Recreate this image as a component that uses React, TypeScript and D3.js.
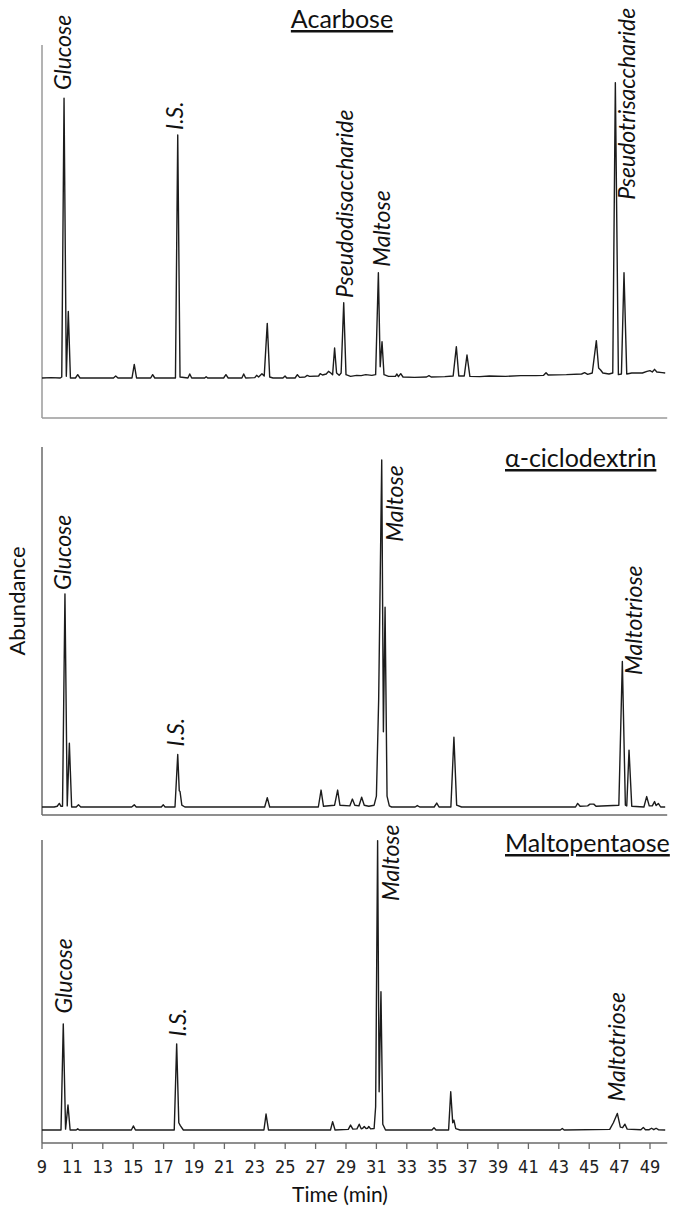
import React from "react";
import * as d3 from "d3";

// ---------- DATA (time in min, abundance in arbitrary units, baseline = 0) ----------
const TIME_TICKS = [9, 11, 13, 15, 17, 19, 21, 23, 25, 27, 29, 31, 33, 35, 37, 39, 41, 43, 45, 47, 49];

const ACARBOSE_TRACE: [number, number][] = [
  [9.0, 0], [9.6, 0.1], [10.2, 0], [10.3, 0.3], [10.45, 84], [10.6, 0.5], [10.73, 20], [10.87, 0],
  [11.2, 0], [11.35, 1], [11.5, 0], [13.7, 0], [13.85, 0.6], [14.0, 0], [14.92, 0], [15.07, 4.1],
  [15.22, 0], [16.15, 0], [16.28, 1], [16.42, 0], [17.78, 0], [17.93, 73], [18.08, 0.3], [18.6, 0],
  [18.72, 1.2], [18.85, 0], [19.7, 0], [19.8, 0.4], [19.9, 0], [20.95, 0], [21.1, 1], [21.25, 0],
  [22.15, 0], [22.27, 1.2], [22.4, 0], [23.0, 0.1], [23.12, 0.8], [23.25, 0.3], [23.47, 1.3],
  [23.62, 0.6], [23.82, 16.4], [23.98, 0.3], [24.2, 0], [24.85, 0], [24.99, 0.6], [25.1, 0],
  [25.65, 0], [25.8, 1], [25.95, 0.2], [26.3, 0.3], [26.45, 0.8], [26.6, 0.5], [27.2, 0.6],
  [27.3, 1.3], [27.45, 0.9], [27.7, 1.2], [27.85, 2.0], [28.0, 1.5], [28.12, 1.0], [28.25, 9],
  [28.38, 1.5], [28.55, 0.8], [28.68, 1.5], [28.85, 22.6], [29.0, 1.0], [29.3, 0.5], [29.7, 0.8],
  [30.0, 0.7], [30.3, 1.0], [30.7, 0.8], [30.95, 1.0], [31.13, 31.6], [31.25, 3.4], [31.37, 10.9],
  [31.5, 1.0], [31.8, 0.5], [32.25, 0.5], [32.35, 1.2], [32.45, 0.4], [32.6, 1.3], [32.75, 0.3],
  [33.5, 0.2], [34.3, 0.3], [34.46, 0.7], [34.6, 0.3], [35.5, 0.4], [36.05, 0.6], [36.26, 9.4],
  [36.42, 0.6], [36.78, 0.6], [36.96, 6.9], [37.15, 0.5], [37.8, 0.4], [38.43, 0.6], [39.5, 0.5],
  [40.5, 0.7], [41.5, 0.7], [42.0, 0.8], [42.16, 1.6], [42.3, 0.9], [43.5, 1.0], [44.5, 1.2],
  [44.7, 1.6], [44.9, 1.1], [45.2, 1.5], [45.47, 11.2], [45.62, 3.0], [45.75, 2.4], [45.9, 1.5],
  [46.3, 1.2], [46.55, 1.5], [46.72, 88.7], [46.92, 1.0], [47.12, 1.2], [47.29, 31.6], [47.47, 1.2],
  [47.8, 1.5], [48.5, 1.5], [48.8, 2.0], [49.0, 2.2], [49.15, 1.8], [49.3, 2.6], [49.45, 1.8],
  [49.8, 1.6], [50.0, 1.5],
];

const CICLODEXTRIN_TRACE: [number, number][] = [
  [9.0, 0], [9.8, 0], [10.0, 0.2], [10.14, 1], [10.25, 0.2], [10.35, 0.2], [10.51, 59.2], [10.66, 0.3],
  [10.8, 17.7], [10.95, 0], [11.25, 0], [11.4, 0.6], [11.55, 0], [14.9, 0], [15.07, 0.6], [15.2, 0],
  [16.85, 0], [16.98, 0.6], [17.1, 0], [17.75, 0], [17.93, 14.6], [18.03, 4.5], [18.08, 4.3],
  [18.2, 0.5], [18.4, 0], [23.65, 0], [23.82, 2.6], [23.98, 0], [27.18, 0], [27.36, 4.7],
  [27.52, 0.2], [28.25, 0.5], [28.45, 4.7], [28.6, 0.5], [29.25, 0.3], [29.42, 2.2], [29.58, 0.5],
  [29.85, 0.3], [30.03, 2.7], [30.2, 0.5], [30.5, 0.2], [30.85, 0.5], [31.0, 3], [31.15, 30],
  [31.35, 96.4], [31.46, 20.9], [31.57, 55.5], [31.7, 3], [31.85, 0.3], [32.0, 0], [33.55, 0],
  [33.69, 0.4], [33.85, 0], [34.8, 0], [34.97, 1.1], [35.12, 0], [35.9, 0], [36.1, 19.4],
  [36.28, 0.5], [36.6, 0], [44.1, 0], [44.24, 1], [44.4, 0.2], [44.9, 0.3], [45.05, 0.8],
  [45.3, 0.8], [45.45, 0.2], [46.95, 0.5], [47.18, 40.4], [47.38, 0.5], [47.47, 0.3], [47.62, 15.8],
  [47.8, 0.2], [48.6, 0], [48.78, 2.9], [48.95, 0.3], [49.15, 0.3], [49.3, 1.5], [49.4, 0.4],
  [49.55, 1.0], [49.7, 0], [50.0, 0],
];

const MALTOPENTAOSE_TRACE: [number, number][] = [
  [9.0, 0], [10.25, 0], [10.4, 36.6], [10.55, 0.3], [10.71, 8.6], [10.85, 0], [11.25, 0],
  [11.35, 0.4], [11.45, 0], [14.88, 0], [15.01, 1.4], [15.15, 0], [17.7, 0], [17.86, 29.7],
  [18.0, 2.5], [18.1, 1.5], [18.3, 0], [23.6, 0], [23.74, 5.5], [23.9, 0], [27.98, 0], [28.12, 2.9],
  [28.28, 0], [29.15, 0.2], [29.3, 1.7], [29.45, 0.3], [29.72, 0.4], [29.87, 2.0], [30.0, 0.4],
  [30.1, 0.6], [30.2, 1.2], [30.32, 0.5], [30.42, 0.6], [30.5, 1.2], [30.62, 0.4], [30.85, 0.5],
  [30.95, 8], [31.08, 99.8], [31.18, 13.2], [31.3, 47.7], [31.42, 2], [31.6, 0], [34.65, 0],
  [34.79, 0.8], [34.92, 0], [35.75, 0], [35.89, 13.2], [36.02, 2.5], [36.1, 3.4], [36.22, 0.5],
  [36.5, 0], [43.1, 0], [43.23, 0.5], [43.35, 0], [46.35, 0.2], [46.59, 2.5], [46.85, 5.7],
  [47.05, 1.0], [47.2, 0.8], [47.35, 2.0], [47.5, 0.3], [48.4, 0.1], [48.56, 0.9], [48.7, 0.1],
  [48.95, 0.1], [49.1, 0.6], [49.25, 0.1], [49.4, 0.6], [49.55, 0.1], [50.0, 0],
];

const ACARBOSE_LABELS = [
  { text: "Glucose", t: 10.91, v: 86.5 },
  { text: "I.S.", t: 18.28, v: 74.5 },
  { text: "Pseudodisaccharide", t: 29.46, v: 24 },
  { text: "Maltose", t: 31.9, v: 33.4 },
  { text: "Pseudotrisaccharide", t: 48.01, v: 53.5 },
];
const CICLODEXTRIN_LABELS = [
  { text: "Glucose", t: 10.94, v: 60.3 },
  { text: "I.S.", t: 18.34, v: 16.8 },
  { text: "Maltose", t: 32.75, v: 73.7 },
  { text: "Maltotriose", t: 48.45, v: 36.7 },
];
const MALTOPENTAOSE_LABELS = [
  { text: "Glucose", t: 10.97, v: 40.2 },
  { text: "I.S.", t: 18.47, v: 32.2 },
  { text: "Maltose", t: 32.49, v: 79 },
  { text: "Maltotriose", t: 47.36, v: 9.8 },
];

const PANEL_TITLES = ["Acarbose", "\u03b1-ciclodextrin", "Maltopentaose"];
const X_TITLE = "Time (min)";
const Y_TITLE = "Abundance";

// ---------- LAYOUT ----------
const W = 685;
const H = 1215;
const LEFT = 42;
const RIGHT = 665.2;
const LABEL_FONT = "Lato, 'Open Sans', sans-serif";
const TICK_FONT = "'Liberation Sans Narrow', 'DejaVu Sans Condensed', 'Roboto Condensed', sans-serif";

const panels = [
  { trace: ACARBOSE_TRACE, labels: ACARBOSE_LABELS, title: PANEL_TITLES[0], top: 45, base: 378, bottom: 418,
    axisColor: "#9a9a9a", titleX: 342, titleY: 28, titleAnchor: "middle" },
  { trace: CICLODEXTRIN_TRACE, labels: CICLODEXTRIN_LABELS, title: PANEL_TITLES[1], top: 447, base: 807, bottom: 815,
    axisColor: "#6a6a6a", titleX: 505, titleY: 467, titleAnchor: "start" },
  { trace: MALTOPENTAOSE_TRACE, labels: MALTOPENTAOSE_LABELS, title: PANEL_TITLES[2], top: 840, base: 1130, bottom: 1143,
    axisColor: "#6a6a6a", titleX: 505, titleY: 852, titleAnchor: "start" },
];

export default function App() {
  const x = d3.scaleLinear().domain([9, 50]).range([LEFT, RIGHT]);

  return (
    <svg width={W} height={H} viewBox={`0 0 ${W} ${H}`}
      style={{ position: "absolute", left: 0, top: 0, display: "block", background: "#fff" }}>
      {panels.map((p, i) => {
        const pxPerUnit = (p.base - p.top) / 100;
        const y = d3.scaleLinear()
          .domain([-(p.bottom - p.base) / pxPerUnit, 100])
          .range([p.bottom, p.top]);
        const line = d3.line<[number, number]>().x((d) => x(d[0])).y((d) => y(d[1]));
        return (
          <g key={i}>
            <line x1={LEFT} x2={LEFT} y1={p.top} y2={p.bottom} stroke={p.axisColor} strokeWidth={1.5} />
            <line x1={LEFT} x2={RIGHT + 2} y1={p.bottom} y2={p.bottom} stroke={p.axisColor} strokeWidth={1.5} />
            <path d={line(p.trace) || ""} fill="none" stroke="#1c1c1c" strokeWidth={1.4} strokeLinejoin="round" />
            {p.labels.map((l, j) => (
              <text key={j} transform={`translate(${x(l.t)},${y(l.v)}) rotate(-90)`}
                fontFamily={LABEL_FONT} fontStyle="italic" fontSize={23} fill="#111">
                {l.text}
              </text>
            ))}
            <text x={p.titleX} y={p.titleY} textAnchor={p.titleAnchor} fontFamily={LABEL_FONT} fontSize={25}
              fill="#111" textDecoration="underline" style={{ textDecoration: "underline" }}>
              {p.title}
            </text>
          </g>
        );
      })}
      {/* x axis ticks on bottom panel */}
      {TIME_TICKS.map((t) => (
        <g key={t} transform={`translate(${x(t)},0)`}>
          <line y1={1143} y2={1149} stroke="#6a6a6a" strokeWidth={1.3} />
          <text y={1173} textAnchor="middle" fontFamily={TICK_FONT} fontSize={18} fill="#222"
            style={{ fontStretch: "condensed" }}>
            {t}
          </text>
        </g>
      ))}
      <text x={340} y={1202} textAnchor="middle" fontFamily={LABEL_FONT} fontSize={21} fill="#111">{X_TITLE}</text>
      <text transform={`translate(25,601) rotate(-90)`} textAnchor="middle" fontFamily={LABEL_FONT} fontSize={22}
        fill="#111">{Y_TITLE}</text>
    </svg>
  );
}
